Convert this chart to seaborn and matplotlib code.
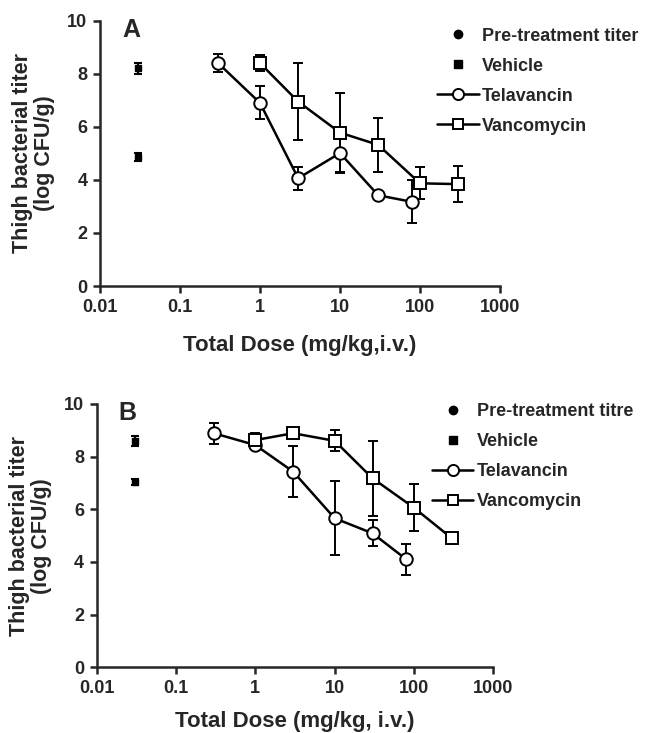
# -*- coding: utf-8 -*-
"""
plot.py

Thigh bacterial titer versus total dose for telavancin and vancomycin (panels A and B).
"""

import pandas as pd
import matplotlib
matplotlib.use("Agg")
import matplotlib.pyplot as plt
from matplotlib.lines import Line2D
import seaborn as sns

# --- Panel A data ---
a_ctrl_dose = [0.03, 0.03]
a_ctrl_mean = [4.85, 8.2]          # pre-treatment, vehicle
a_ctrl_sd = [0.15, 0.22]

a_tela_dose = [0.3, 1, 3, 10, 30, 80]
a_tela_mean = [8.4, 6.9, 4.06, 5.01, 3.42, 3.17]
a_tela_sd = [0.35, 0.62, 0.43, 0.74, 0.15, 0.81]

a_vanc_dose = [1, 3, 10, 30, 100, 300]
a_vanc_mean = [8.4, 6.95, 5.78, 5.32, 3.87, 3.84]
a_vanc_sd = [0.3, 1.45, 1.5, 1.02, 0.6, 0.67]

# --- Panel B data ---
b_ctrl_dose = [0.03, 0.03]
b_ctrl_mean = [7.05, 8.6]
b_ctrl_sd = [0.12, 0.2]

b_tela_dose = [0.3, 1, 3, 10, 30, 80]
b_tela_mean = [8.89, 8.44, 7.43, 5.66, 5.09, 4.1]
b_tela_sd = [0.4, 0.1, 0.98, 1.41, 0.5, 0.6]

b_vanc_dose = [1, 3, 10, 30, 100, 300]
b_vanc_mean = [8.63, 8.89, 8.6, 7.18, 6.06, 4.9]
b_vanc_sd = [0.25, 0.08, 0.4, 1.42, 0.9, 0.2]

x_ticks = [0.01, 0.1, 1, 10, 100, 1000]
x_tick_labels = ["0.01", "0.1", "1", "10", "100", "1000"]
y_ticks = [0, 2, 4, 6, 8, 10]

sns.set_style("ticks")
plt.rcParams["font.family"] = ["Liberation Sans", "DejaVu Sans"]
plt.rcParams["font.weight"] = "bold"
plt.rcParams["axes.labelweight"] = "bold"


def frame(dose, mean, sd, name):
    return pd.DataFrame({"dose": dose, "titer": mean, "sd": sd, "drug": name})


def draw_panel(ax, letter, ctrl, tela, vanc, pre_label, xlabel, xpad):
    df_ctrl = frame(*ctrl, "ctrl")
    df_tela = frame(*tela, "Telavancin")
    df_vanc = frame(*vanc, "Vancomycin")

    # controls at 0.03
    ax.errorbar(df_ctrl["dose"], df_ctrl["titer"], yerr=df_ctrl["sd"], fmt="s",
                ms=4.5, color="black", ecolor="black", elinewidth=1.5,
                capsize=3, capthick=1.5, zorder=3)

    for df, mk, ms in [(df_tela, "o", 9), (df_vanc, "s", 8)]:
        ax.errorbar(df["dose"], df["titer"], yerr=df["sd"], fmt="none",
                    ecolor="black", elinewidth=1.4, capsize=3.5, capthick=1.4, zorder=2)
        sns.lineplot(data=df, x="dose", y="titer", ax=ax, color="black", lw=1.8,
                     marker=mk, ms=ms, mfc="white", mec="black", mew=1.4,
                     errorbar=None, legend=False, zorder=4)

    ax.set_xscale("log")
    ax.set_xlim(0.01, 1000)
    ax.set_ylim(0, 10)
    ax.set_xticks(x_ticks)
    ax.set_xticklabels(x_tick_labels)
    ax.minorticks_off()
    ax.set_yticks(y_ticks)
    ax.tick_params(axis="both", labelsize=13, width=1.8, length=5, pad=4,
                   direction="out")
    for lab in ax.get_xticklabels() + ax.get_yticklabels():
        lab.set_fontweight("bold")
    sns.despine(ax=ax)
    for s in ["left", "bottom"]:
        ax.spines[s].set_linewidth(1.8)

    ax.set_xlabel(xlabel, fontsize=16, fontweight="bold", labelpad=xpad)
    ax.set_ylabel("Thigh bacterial titer\n(log CFU/g)", fontsize=15.5,
                  fontweight="bold", labelpad=9, linespacing=1.05)
    ax.text(0.055, 1.01, letter, transform=ax.transAxes, fontsize=18,
            fontweight="bold", va="top", ha="left")

    handles = [
        Line2D([], [], ls="none", marker="o", ms=6, color="black"),
        Line2D([], [], ls="none", marker="s", ms=5.5, color="black"),
        Line2D([], [], color="black", lw=1.8, marker="o", ms=8, mfc="white", mew=1.4),
        Line2D([], [], color="black", lw=1.8, marker="s", ms=7.5, mfc="white", mew=1.4),
    ]
    labels = [pre_label, "Vehicle", "Telavancin", "Vancomycin"]
    return handles, labels


fig = plt.figure(figsize=(6.54, 7.33), dpi=100)
ax_a = fig.add_axes([100 / 654, 1 - 286 / 733, 400 / 654, 265.3 / 733])
ax_b = fig.add_axes([96.7 / 654, 1 - 667.3 / 733, 396.6 / 654, 263.3 / 733])

h, l = draw_panel(ax_a, "A",
                  (a_ctrl_dose, a_ctrl_mean, a_ctrl_sd),
                  (a_tela_dose, a_tela_mean, a_tela_sd),
                  (a_vanc_dose, a_vanc_mean, a_vanc_sd),
                  "Pre-treatment titer", "Total Dose (mg/kg,i.v.)", 14)
ax_a.legend(h, l, loc="upper left", bbox_to_anchor=(0.8425, 0.974), frameon=False,
            handlelength=2.3, handletextpad=0.2, labelspacing=0.72,
            borderpad=0, borderaxespad=0, prop={"weight": "bold", "size": 13})

h, l = draw_panel(ax_b, "B",
                  (b_ctrl_dose, b_ctrl_mean, b_ctrl_sd),
                  (b_tela_dose, b_tela_mean, b_tela_sd),
                  (b_vanc_dose, b_vanc_mean, b_vanc_sd),
                  "Pre-treatment titre", "Total Dose (mg/kg, i.v.)", 10)
ax_b.legend(h, l, loc="upper left", bbox_to_anchor=(0.845, 1.003), frameon=False,
            handlelength=2.3, handletextpad=0.2, labelspacing=0.72,
            borderpad=0, borderaxespad=0, prop={"weight": "bold", "size": 13})

fig.savefig("out.png", dpi=100)
